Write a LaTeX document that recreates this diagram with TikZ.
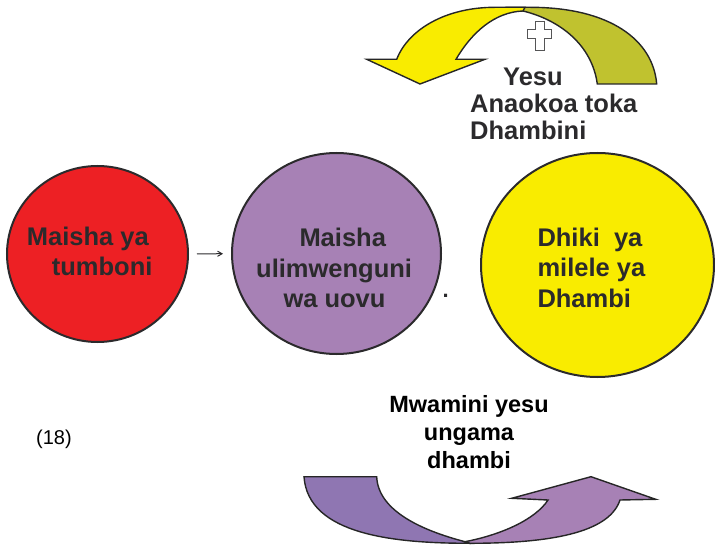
\documentclass[tikz,border=0pt]{standalone}
\usepackage{fontspec}
\usepackage{xcolor}
\setmainfont{Liberation Sans}
\usetikzlibrary{arrows,shapes.geometric}
\definecolor{darktext}{HTML}{2B2A2C}
\definecolor{redfill}{HTML}{ED2024}
\definecolor{purplefill}{HTML}{A781B5}
\definecolor{yellowfill}{HTML}{F9EC00}
\definecolor{olivefill}{HTML}{C0C22F}
\definecolor{violetfill}{HTML}{8F76B2}
\begin{document}
\begin{tikzpicture}[x=1pt,y=-1pt]
\tikzset{circ/.style={ellipse,draw=darktext,line width=2pt,inner sep=0pt}}
\tikzset{bendarrow/.style={draw=black!85,line width=1.4pt,line join=miter}}
\tikzset{txt/.style={text=darktext,font=\bfseries\fontsize{25.5}{30.7}\selectfont,align=left,inner sep=0pt,anchor=base west}}

\useasboundingbox (0,0) rectangle (715,545);

% circles
\node[circ,fill=redfill,minimum width=181pt,minimum height=176pt] (womb) at (97.5,254) {};
\node[circ,fill=purplefill,minimum width=209pt,minimum height=201pt] (world) at (336.5,253.5) {};
\node[circ,fill=yellowfill,minimum width=233pt,minimum height=224pt] (torment) at (597.5,265) {};
\draw[-angle 60,darktext,line width=1pt,shorten >=8pt,shorten <=8pt] (womb) -- (world);

% top arrow
\draw[bendarrow,fill=olivefill] (523,11) .. controls (560,20) and (592,45) .. (597.3,84) -- (656.7,84)
  .. controls (653,40) and (610,7.3) .. (530,7.3) -- (510,7.3) -- cycle;
\draw[bendarrow,fill=yellowfill] (523,11) .. controls (495,12) and (472,32) .. (456,59.3) -- (485,59.3)
  -- (420,84) -- (366.7,59.3) -- (396.7,59.3) .. controls (408,30) and (445,7.3) .. (495,7.3) -- (525,7.3) -- cycle;
\draw[draw=darktext!80,line width=1pt,fill=white] (535,21.7) -- (544,21.7) -- (544,29.3) -- (551.7,29.3)
  -- (551.7,38.3) -- (544,38.3) -- (544,51) -- (535,51) -- (535,38.3) -- (527.3,38.3) -- (527.3,29.3)
  -- (535,29.3) -- cycle;

% bottom arrow
\draw[bendarrow,fill=violetfill] (304,476.7) -- (376.7,476.7) .. controls (378,510) and (420,530) .. (465,541.7)
  -- (470,543.3) .. controls (395,543.3) and (308,535) .. cycle;
\draw[bendarrow,fill=purplefill] (465,541.7) .. controls (500,535) and (535,520) .. (548,500) -- (511.7,498.3)
  -- (591,476.7) -- (655.7,499.3) -- (620,500) .. controls (610,530) and (560,543.3) .. (470,543.3) -- cycle;

% texts
\node[txt] (wombtxt) at (26.7,276) {Maisha ya\\\hspace*{25pt}tumboni};
\node[txt] (worldtxt) at (256,308) {\hspace*{43.3pt}Maisha\\ulimwenguni\\\hspace*{27.3pt}wa uovu};
\node[txt] (tormenttxt) at (537.3,307.5) {Dhiki\ \ ya\\milele ya\\Dhambi};
\node[txt,font=\bfseries\fontsize{25.5}{27}\selectfont] (savetxt) at (470,140) {\hspace*{33pt}Yesu\\Anaokoa toka\\Dhambini};
\node[txt,text=black,font=\bfseries\fontsize{23.5}{28}\selectfont,align=center,anchor=base] (believetxt) at (469,468) {Mwamini yesu\\ungama\\dhambi};
\node[txt,text=black,font=\fontsize{20}{24}\selectfont] (numtxt) at (36,444) {(18)};
\node[txt,font=\bfseries\fontsize{22}{24}\selectfont] (dottxt) at (442.5,298) {.};
\end{tikzpicture}
\end{document}
